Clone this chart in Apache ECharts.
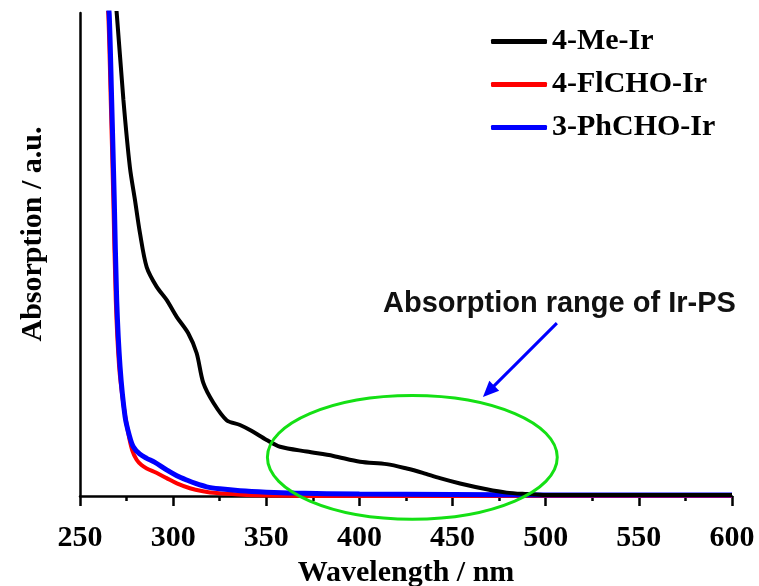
<!DOCTYPE html>
<html>
<head>
<meta charset="utf-8">
<script src="https://cdn.jsdelivr.net/npm/echarts@6/dist/echarts.min.js"></script>
<style>
  html, body { margin: 0; padding: 0; background: #fff; }
  #chart { width: 759px; height: 586px; }
</style>
</head>
<body>
<div id="chart"></div>
<script>
// UV-Vis absorption spectra of the three Ir complexes (normalised, a.u.)
const seriesNames = ['4-Me-Ir', '4-FlCHO-Ir', '3-PhCHO-Ir'];

const meIrWavelength = [268, 269.7, 273.3, 276.8, 279.5, 282.2, 285.8, 291.2, 296.5, 301.9, 308.1, 312.6, 316.2, 321.6, 328.7, 335.9, 342, 350.2, 357.4, 371.7, 386, 400.3, 414.6, 425.4, 434, 443.2, 454, 468.3, 479, 489.7, 500, 550, 600];
const meIrAbs        = [1.06, 1.0, 0.82, 0.68, 0.613, 0.544, 0.474, 0.433, 0.406, 0.371, 0.337, 0.296, 0.234, 0.193, 0.157, 0.147, 0.135, 0.116, 0.102, 0.092, 0.083, 0.071, 0.066, 0.057, 0.048, 0.037, 0.026, 0.014, 0.007, 0.004, 0.002, 0.002, 0.002];

const flchoWavelength = [264.3, 265.2, 266.5, 267.9, 269.2, 271, 273.3, 275.9, 278, 280.4, 283, 285.8, 291, 296.5, 302, 309, 316, 323.4, 335, 350, 400, 500, 600];
const flchoAbs        = [1.03, 0.996, 0.82, 0.613, 0.406, 0.268, 0.19, 0.13, 0.095, 0.075, 0.064, 0.057, 0.048, 0.037, 0.026, 0.016, 0.01, 0.006, 0.003, 0.001, 0, 0, 0];

const phchoWavelength = [264.8, 265.7, 267, 268.4, 269.7, 271.5, 274.2, 276.5, 278.6, 282, 285.8, 290, 296.5, 302, 307.3, 312, 318, 325, 335.9, 350, 365, 400, 450, 500, 550, 600];
const phchoAbs        = [1.03, 0.996, 0.82, 0.613, 0.406, 0.268, 0.164, 0.125, 0.102, 0.087, 0.078, 0.07, 0.054, 0.042, 0.033, 0.026, 0.019, 0.015, 0.011, 0.008, 0.006, 0.004, 0.003, 0.002, 0.002, 0.002];

const xTicks = { min: 250, max: 600, step: 50 };

// highlighted Ir-PS absorption window (data units)
const rangeEllipse = { cx: 428.4, cy: 0.080, rx: 77.8, ry: 0.128 };
const arrowFrom = [506, 0.358];
const arrowTo = [466.3, 0.205];
const noteText = 'Absorption range of Ir-PS';

const zip = (xs, ys) => xs.map((x, i) => [x, ys[i]]);

const serif = "'Liberation Serif', 'Times New Roman', serif";
const sans = "'Liberation Sans', Arial, sans-serif";
const colors = ['#000000', '#ff0000', '#0000ff'];

const chart = echarts.init(document.getElementById('chart'), null, { renderer: 'canvas' });

chart.setOption({
  animation: false,
  backgroundColor: '#ffffff',
  grid: { left: 80, right: 27, top: 13, bottom: 90, containLabel: false, outerBoundsMode: 'none' },
  legend: {
    orient: 'vertical',
    left: 491,
    top: 26,
    padding: 0,
    itemWidth: 56,
    itemHeight: 5,
    itemGap: 12,
    icon: 'roundRect',
    textStyle: { fontFamily: serif, fontWeight: 'bold', fontSize: 30, color: '#000', lineHeight: 31 },
    data: seriesNames
  },
  xAxis: {
    type: 'value',
    min: xTicks.min,
    max: xTicks.max,
    interval: xTicks.step,
    name: 'Wavelength / nm',
    nameLocation: 'middle',
    nameGap: 62,
    nameTextStyle: { fontFamily: serif, fontWeight: 'bold', fontSize: 30, color: '#000' },
    axisLine: { show: true, onZero: false, lineStyle: { color: '#000', width: 2.5 } },
    axisTick: { show: true, inside: false, length: 10, lineStyle: { color: '#000', width: 2.5 } },
    minorTick: { show: true, splitNumber: 2, length: 5, lineStyle: { color: '#000', width: 2.5 } },
    axisLabel: { margin: 27, fontFamily: serif, fontWeight: 'bold', fontSize: 30, color: '#000' },
    splitLine: { show: false }
  },
  yAxis: {
    type: 'value',
    min: 0,
    max: 1,
    axisLine: { show: true, lineStyle: { color: '#000', width: 2.5 } },
    axisTick: { show: false },
    axisLabel: { show: false },
    splitLine: { show: false }
  },
  series: [
    {
      name: seriesNames[0], type: 'line', data: zip(meIrWavelength, meIrAbs),
      showSymbol: false, symbol: 'none', smooth: 0.3, z: 4,
      itemStyle: { color: colors[0] }, lineStyle: { color: colors[0], width: 4 }
    },
    {
      name: seriesNames[1], type: 'line', data: zip(flchoWavelength, flchoAbs),
      showSymbol: false, symbol: 'none', smooth: 0.3, z: 2,
      itemStyle: { color: colors[1] }, lineStyle: { color: colors[1], width: 4 }
    },
    {
      name: seriesNames[2], type: 'line', data: zip(phchoWavelength, phchoAbs),
      showSymbol: false, symbol: 'none', smooth: 0.3, z: 3,
      itemStyle: { color: colors[2] }, lineStyle: { color: colors[2], width: 5 }
    }
  ]
});

// annotation layer: ellipse, arrow and note placed through the grid's coordinate system
const toPx = p => chart.convertToPixel({ gridIndex: 0 }, p);
const c = toPx([rangeEllipse.cx, rangeEllipse.cy]);
const ex = toPx([rangeEllipse.cx + rangeEllipse.rx, rangeEllipse.cy]);
const ey = toPx([rangeEllipse.cx, rangeEllipse.cy + rangeEllipse.ry]);
const a0 = toPx(arrowFrom);
const a1 = toPx(arrowTo);
const dx = a1[0] - a0[0], dy = a1[1] - a0[1];
const len = Math.hypot(dx, dy);
const ux = dx / len, uy = dy / len;
const headLen = 16, headHalf = 7;
const base = [a1[0] - ux * headLen, a1[1] - uy * headLen];

chart.setOption({
  graphic: [
    {
      type: 'ellipse', z: 100, silent: true,
      shape: { cx: c[0], cy: c[1], rx: ex[0] - c[0], ry: c[1] - ey[1] },
      style: { fill: null, stroke: '#14e014', lineWidth: 3 }
    },
    {
      type: 'line', z: 100, silent: true,
      shape: { x1: a0[0], y1: a0[1], x2: base[0] + ux * 2, y2: base[1] + uy * 2 },
      style: { stroke: '#0000ff', lineWidth: 3 }
    },
    {
      type: 'polygon', z: 100, silent: true,
      shape: { points: [a1, [base[0] - uy * headHalf, base[1] + ux * headHalf], [base[0] + uy * headHalf, base[1] - ux * headHalf]] },
      style: { fill: '#0000ff' }
    },
    {
      type: 'text', z: 100, silent: true, x: 383, y: 304,
      style: { text: noteText, font: 'bold 29px ' + sans, fill: '#111', textAlign: 'left', textVerticalAlign: 'middle' }
    },
    {
      type: 'text', z: 100, silent: true, x: 33, y: 234, rotation: Math.PI / 2,
      style: { text: 'Absorption / a.u.', font: 'bold 30px ' + serif, fill: '#000', textAlign: 'center', textVerticalAlign: 'middle' }
    }
  ]
});
</script>
</body>
</html>
